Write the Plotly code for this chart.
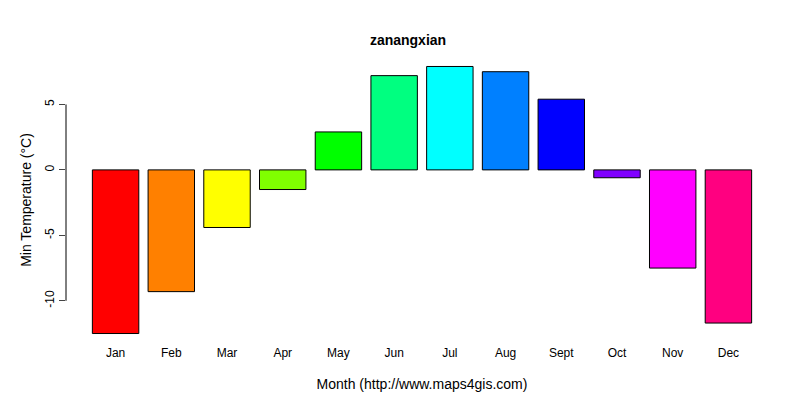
import plotly.graph_objects as go

months = ["Jan","Feb","Mar","Apr","May","Jun","Jul","Aug","Sept","Oct","Nov","Dec"]
values = [-12.5,-9.3,-4.4,-1.5,2.9,7.2,7.9,7.5,5.4,-0.6,-7.5,-11.7]
colors = ["#FF0000","#FF8000","#FFFF00","#80FF00","#00FF00","#00FF80",
          "#00FFFF","#0080FF","#0000FF","#8000FF","#FF00FF","#FF0080"]

fig = go.Figure(go.Bar(x=months, y=values, marker=dict(color=colors, line=dict(color="black", width=1))))
fig.update_layout(
    width=800, height=400, plot_bgcolor="white", paper_bgcolor="white",
    font=dict(family="Liberation Sans, Arial", size=12, color="black"),
    title=dict(text="<b>zanangxian</b>", x=0.5, xanchor="center", y=0.92, yanchor="middle", font=dict(size=14)),
    margin=dict(l=58, r=30, t=48, b=64), bargap=1-1/1.2, showlegend=False,
    xaxis=dict(range=[-0.89, 11.89], showline=False, ticks="", showgrid=False,
               title=dict(text="Month (http://www.maps4gis.com)", standoff=20)),
    yaxis=dict(range=[-13.3, 8.7], tickvals=[-10,-5,0,5], ticktext=["-10","-5","0","5"],
               tickangle=-90, ticks="outside", ticklen=6, showgrid=False, zeroline=False,
               showline=False, title=dict(text="Min Temperature (°C)", standoff=8)),
)
fig.add_shape(type="line", xref="paper", yref="y", x0=0, x1=0, y0=-10, y1=5, line=dict(color="black", width=1))
fig.write_html("out.html")
